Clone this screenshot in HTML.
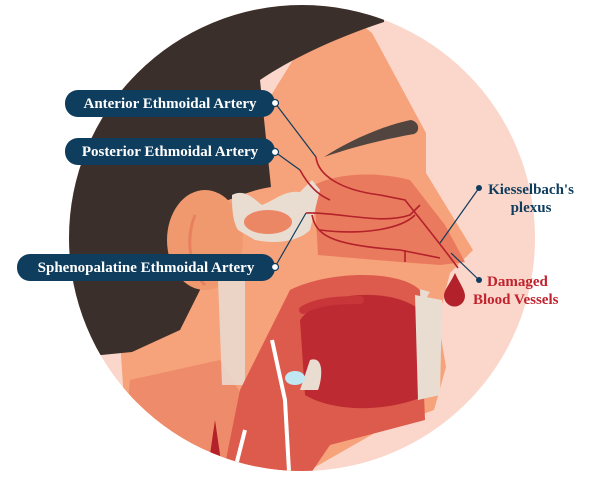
<!DOCTYPE html>
<html><head><style>
html,body{margin:0;padding:0;background:#fff;width:600px;height:489px;overflow:hidden}
svg{display:block}
.lbl{font-family:"Liberation Serif",serif;font-weight:bold;font-size:15px}
</style></head><body>
<svg width="600" height="489" viewBox="0 0 600 489">
<defs><clipPath id="c"><circle cx="302" cy="238" r="233"/></clipPath></defs>
<circle cx="302" cy="238" r="233" fill="#fbd6ca"/>
<g clip-path="url(#c)">
 <!-- face -->
 <path d="M330,0 L372,33 L426,133 L426,173 L473,250 L450,273 L438,320 L446,367 L434,410 L380,430 L310,470 L130,489 L120,340 Z" fill="#f6a27a"/>
 <path d="M130,380 L220,360 L300,489 L120,489 Z" fill="#ee8b6a"/>
 <!-- hair -->
 <path d="M50,0 L384,0 L384,22 C330,40 290,60 260,80 L271,187 C250,190 230,200 215,205 L200,290 L180,330 L132,352 L50,360 Z" fill="#3b2f2b"/>
 <!-- ear -->
 <ellipse cx="205" cy="240" rx="38" ry="50" fill="#f0996f"/>
 <path d="M195,215 C185,240 190,270 205,285" stroke="#e88060" stroke-width="3" fill="none"/>
 <!-- eyebrow -->
 <path d="M324,157 C350,140 385,125 411,120 C420,122 420,132 414,134 C380,140 350,148 324,157 Z" fill="#524540"/>
 <!-- nasal cavity -->
 <path d="M314,185 C340,172 380,172 410,180 L445,225 L465,262 L440,265 L400,262 L318,255 Z" fill="#ea7a5e"/>
 <!-- bone -->
 <path d="M232,195 C245,188 255,200 262,205 C275,200 285,190 300,192 L312,180 L320,190 L310,230 C300,240 280,245 255,240 L238,230 C232,220 232,205 232,195 Z" fill="#e9ddd2"/>
 <ellipse cx="268" cy="222" rx="24" ry="12" fill="#ec8766"/>
 <path d="M362,288 C380,282 420,288 430,292 L425,300 L370,300 Z" fill="#e9ddd2"/>
 <path d="M218,280 L245,280 L245,385 L222,385 Z" fill="#e9ddd2" opacity="0.85"/>
 <!-- mouth/throat -->
 <path d="M290,290 C330,270 400,270 420,290 L425,420 L330,445 L300,489 L220,489 L240,390 Z" fill="#dd5b4c"/>
 <path d="M300,320 C320,290 400,285 425,315 L428,395 C380,415 330,410 305,395 Z" fill="#bd2a32"/>
 <path d="M303,310 C320,300 345,300 360,300" stroke="#c9363a" stroke-width="8" stroke-linecap="round" fill="none"/>
 <path d="M415,295 L442,300 L440,395 L418,400 Z" fill="#e9ddd2"/>
 <path d="M310,360 C325,355 322,380 318,390 L300,390 Z" fill="#e9ddd2"/>
 <ellipse cx="295" cy="378" rx="10" ry="7" fill="#bfe8f2"/>
 <path d="M272,340 L285,400 L290,489" stroke="#fff" stroke-width="4" fill="none"/>
 <path d="M245,430 L230,489" stroke="#fff" stroke-width="4" fill="none"/>
 <path d="M215,420 L225,489 L205,489 Z" fill="#b3212a"/>
 <!-- arteries -->
 <g stroke="#b3212a" stroke-width="1.6" fill="none">
  <path d="M316,157 C318,175 340,190 380,195 L405,200 C425,225 445,250 458,268"/>
  <path d="M300,170 C308,185 318,195 330,200"/>
  <path d="M306,213 C340,212 380,225 410,215 L420,205"/>
  <path d="M312,215 C316,235 330,245 400,250 L440,258"/>
  <path d="M320,230 C360,235 400,230 415,215"/>
  <path d="M405,250 L405,262"/>
 </g>
</g>
<!-- connectors -->
<g stroke="#0f3d5e" stroke-width="1.2" fill="none">
 <line x1="275" y1="103" x2="316" y2="157"/>
 <line x1="275" y1="152" x2="300" y2="170"/>
 <line x1="275" y1="267" x2="306" y2="213"/>
 <line x1="479" y1="188" x2="440" y2="243"/>
 <line x1="451" y1="253" x2="479" y2="280"/>
</g>
<!-- pills -->
<rect x="65" y="90" width="210" height="27" rx="13" fill="#0f3d5e"/>
<text x="170" y="108" text-anchor="middle" class="lbl" fill="#fff">Anterior Ethmoidal Artery</text>
<rect x="65" y="138" width="210" height="27" rx="13" fill="#0f3d5e"/>
<text x="170" y="156" text-anchor="middle" class="lbl" fill="#fff">Posterior Ethmoidal Artery</text>
<rect x="17" y="254" width="258" height="27" rx="13" fill="#0f3d5e"/>
<text x="146" y="272" text-anchor="middle" class="lbl" fill="#fff">Sphenopalatine Ethmoidal Artery</text>
<g fill="#fff" stroke="#0f3d5e" stroke-width="1.2">
 <circle cx="275" cy="103" r="3.5"/><circle cx="275" cy="152" r="3.5"/><circle cx="275" cy="267" r="3.5"/>
</g>
<circle cx="479" cy="188" r="3" fill="#0f3d5e"/>
<circle cx="479" cy="280" r="3" fill="#0f3d5e"/>
<text x="531" y="194" text-anchor="middle" class="lbl" fill="#0f3d5e">Kiesselbach's</text>
<text x="531" y="212" text-anchor="middle" class="lbl" fill="#0f3d5e">plexus</text>
<text x="487" y="286" class="lbl" fill="#c0232e">Damaged</text>
<text x="473" y="304" class="lbl" fill="#c0232e">Blood Vessels</text>
<path d="M455,273 C450,284 444,290 444,296 A10.5,10.5 0 0 0 465,296 C465,290 460,284 455,273 Z" fill="#b3212a"/>
</svg>
</body></html>
